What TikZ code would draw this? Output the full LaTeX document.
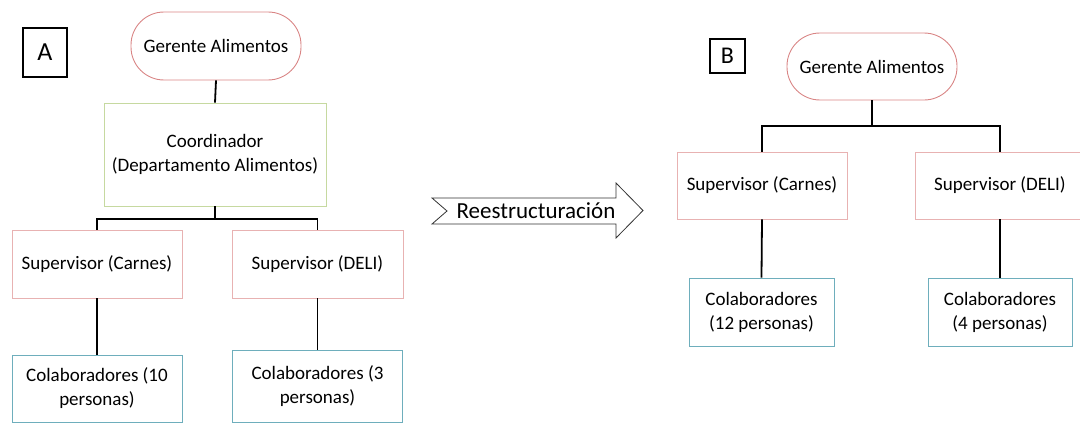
\documentclass[tikz,border=0pt]{standalone}
\usepackage{fontspec}
\setmainfont{Carlito}
\begin{document}
\begin{tikzpicture}[x=1pt,y=-1pt,
  box/.style={draw, rectangle, inner sep=0pt, align=center, line width=0.9pt,
    font=\fontsize{19}{24}\selectfont},
  gerente/.style={box, draw=gerc, rounded corners=33pt},
  coord/.style={box, draw=coordc},
  sup/.style={box, draw=supc},
  colab/.style={box, draw=colc},
  label/.style={draw=black, line width=1.2pt, inner sep=0pt, font=\fontsize{26}{26}\selectfont},
  conn/.style={line width=1.8pt, black}]
\definecolor{gerc}{HTML}{D98585}
\definecolor{coordc}{HTML}{C6D9A0}
\definecolor{supc}{HTML}{E8B2B2}
\definecolor{colc}{HTML}{6EAEBC}
\useasboundingbox (0,0) rectangle (1080,423);
\clip (0,0) rectangle (1080,423);
% ---------- A ----------
\node[label, minimum width=44pt, minimum height=49pt] (labA) at (45,52.5) {A};
\node[gerente, minimum width=170pt, minimum height=68pt] (gA) at (216,46) {Gerente Alimentos};
\node[coord, minimum width=222pt, minimum height=103pt] (co) at (215,154.5) {Coordinador\\(Departamento Alimentos)};
\node[sup, minimum width=170pt, minimum height=68pt] (sCA) at (97,264) {Supervisor (Carnes)};
\node[sup, minimum width=171pt, minimum height=68pt] (sDA) at (317.5,264) {Supervisor (DELI)};
\node[colab, minimum width=170pt, minimum height=67pt] (cCA) at (97,388.5) {Colaboradores (10\\personas)};
\node[colab, minimum width=170pt, minimum height=72pt] (cDA) at (317.5,386) {Colaboradores (3\\personas)};
\coordinate (busA) at (215,219);
\draw[conn] (gA.south) -- (co.north);
\draw[conn] (co.south) -- (busA);
\draw[conn] (sCA.north) |- (busA) -| (sDA.north);
\draw[conn] (sCA.south) -- (cCA.north);
\draw[conn] (sDA.south) -- (cDA.north);
% ---------- arrow ----------
\draw[line width=0.8pt, black!80, fill=white]
  (432,198) -- (616,198) -- (616,183) -- (643,210.5) -- (616,238) -- (616,224) -- (432,224) -- (447,211) -- cycle;
\node[font=\fontsize{23}{23}\selectfont, inner sep=0pt] (re) at (536,211) {Reestructuración};
% ---------- B ----------
\node[label, minimum width=35pt, minimum height=34pt, font=\fontsize{24}{24}\selectfont] (labB) at (727.5,56) {B};
\node[gerente, minimum width=170pt, minimum height=67pt] (gB) at (872,66.5) {Gerente Alimentos};
\node[sup, minimum width=170pt, minimum height=67pt] (sCB) at (762,185.5) {Supervisor (Carnes)};
\node[sup, minimum width=170pt, minimum height=67pt] (sDB) at (1000,185.5) {Supervisor (DELI)};
\node[colab, minimum width=145pt, minimum height=68pt] (cCB) at (761.5,312) {Colaboradores\\(12 personas)};
\node[colab, minimum width=144pt, minimum height=68pt] (cDB) at (1000,312) {Colaboradores\\(4 personas)};
\coordinate (busB) at (872,126);
\draw[conn] (gB.south) -- (busB);
\draw[conn] (sCB.north) |- (busB) -| (sDB.north);
\draw[conn] (sCB.south) -- (cCB.north);
\draw[conn] (sDB.south) -- (cDB.north);
\end{tikzpicture}
\end{document}
